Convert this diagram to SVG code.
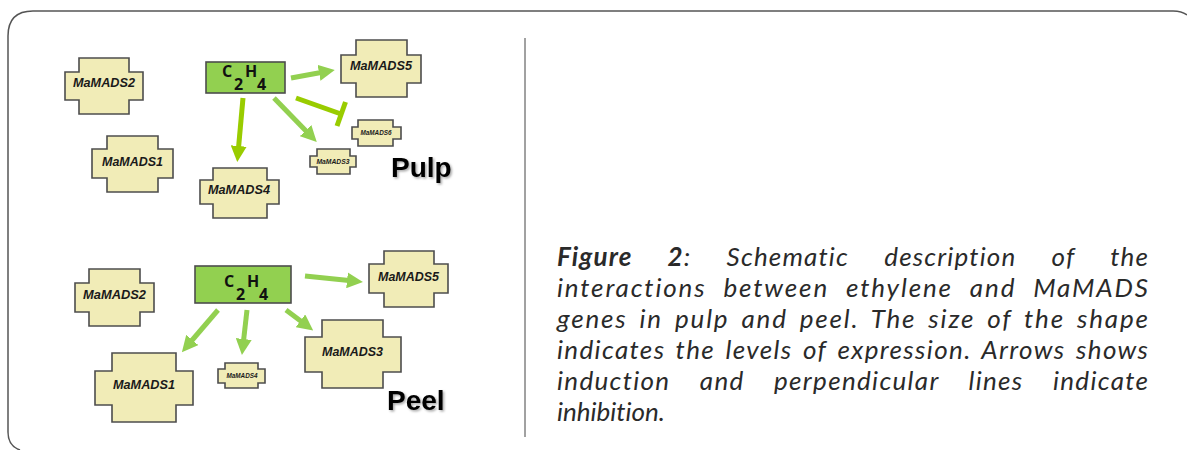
<svg xmlns="http://www.w3.org/2000/svg" width="1187" height="450" viewBox="0 0 1187 450">
<style>
.frame{fill:none;stroke:#555;stroke-width:1.5}
.div{stroke:#444;stroke-width:1}
.node{fill:#f1ecb7;stroke:#4d4d4d;stroke-width:1.6}
.ntxt{font-family:"Liberation Sans",Arial,sans-serif;font-weight:bold;font-style:italic;font-size:13px;fill:#1a1a1a;text-anchor:middle}
.stxt{font-family:"Liberation Sans",Arial,sans-serif;font-weight:bold;font-style:italic;font-size:6.5px;fill:#1a1a1a;text-anchor:middle}
.eth{fill:#92d050;stroke:#4d4d4d;stroke-width:1.6}
.etxt{font-family:"Open Sans","Liberation Sans",sans-serif;font-weight:bold;font-size:16px;fill:#111}
.lbl{font-family:"Liberation Sans",Arial,sans-serif;font-weight:bold;font-size:28px;fill:#000}
.cap{font-family:Lato,"Open Sans",sans-serif;font-style:italic;font-size:26px;fill:#2a2a2a;font-variant-ligatures:none;font-feature-settings:"liga" 0}
.a1{stroke:#99cc00;stroke-width:5;fill:none}
.a2{stroke:#92d050;stroke-width:5;fill:none}
</style>
<defs>
<marker id="h1" markerUnits="userSpaceOnUse" markerWidth="16" markerHeight="16" refX="2" refY="8" orient="auto"><path d="M0,0 L16,8 L0,16 z" fill="#99cc00"/></marker>
<marker id="h2" markerUnits="userSpaceOnUse" markerWidth="16" markerHeight="16" refX="2" refY="8" orient="auto"><path d="M0,0 L16,8 L0,16 z" fill="#92d050"/></marker>
<filter id="sh" x="-10%" y="-10%" width="130%" height="130%"><feDropShadow dx="1.5" dy="1.5" stdDeviation="1" flood-color="#000" flood-opacity="0.35"/></filter>
</defs>
<path class="frame" d="M20,450 Q8,446 8,432 L8,36 Q8,11 33,11 L1173,11 Q1182,11 1187,15"/>
<line class="div" x1="525" y1="38" x2="525" y2="437"/>

<g id="connectors">
<line class="a1" x1="243" y1="98" x2="238.5" y2="148" marker-end="url(#h1)"/>
<line class="a2" x1="291" y1="78" x2="321" y2="72.5" marker-end="url(#h2)"/>
<line class="a2" x1="274" y1="98" x2="307" y2="132" marker-end="url(#h2)"/>
<line class="a1" x1="296" y1="98" x2="341" y2="114"/>
<line class="a1" x1="345.5" y1="102" x2="337" y2="126"/>
<line class="a2" x1="218" y1="310" x2="191" y2="341.5" marker-end="url(#h2)"/>
<line class="a2" x1="247" y1="310" x2="243.5" y2="341" marker-end="url(#h2)"/>
<line class="a2" x1="286" y1="310" x2="302" y2="322" marker-end="url(#h2)"/>
<line class="a2" x1="305" y1="276" x2="349" y2="280.6" marker-end="url(#h2)"/>
</g>

<g id="pulp-c2h4"><rect class="eth" x="206" y="62" width="79" height="31"/>
<text class="etxt"><tspan x="222" y="77">C</tspan><tspan x="234" y="90">2</tspan><tspan x="245" y="77">H</tspan><tspan x="257" y="90">4</tspan></text></g>
<g id="pulp-mamads2"><path class="node" d="M79,58H129V72H143V100H129V114H79V100H65V72H79Z"/><text class="ntxt" x="104" y="86.5" textLength="62" lengthAdjust="spacingAndGlyphs">MaMADS2</text></g>
<g id="pulp-mamads1"><path class="node" d="M107,136H158V149H173V178H158V192H107V178H92V149H107Z"/><text class="ntxt" x="132.5" y="165.5" textLength="61" lengthAdjust="spacingAndGlyphs">MaMADS1</text></g>
<g id="pulp-mamads4"><path class="node" d="M213,168H267V180H279V204H267V218H213V204H200V180H213Z"/><text class="ntxt" x="239" y="193.5" textLength="62" lengthAdjust="spacingAndGlyphs">MaMADS4</text></g>
<g id="pulp-mamads5"><path class="node" d="M356,40H407V55H421V83H407V97H356V83H341V55H356Z"/><text class="ntxt" x="381" y="69.5" textLength="62" lengthAdjust="spacingAndGlyphs">MaMADS5</text></g>
<g id="pulp-mamads6"><path class="node" d="M358,120H393V127H401V139H393V146H358V139H352V127H358Z"/><text class="stxt" x="376" y="135" textLength="31" lengthAdjust="spacingAndGlyphs">MaMADS6</text></g>
<g id="pulp-mamads3"><path class="node" d="M317,149H350V156H356V167H350V174H317V167H310V156H317Z"/><text class="stxt" x="333" y="163.5" textLength="33" lengthAdjust="spacingAndGlyphs">MaMADS3</text></g>
<text class="lbl" x="391" y="177" filter="url(#sh)">Pulp</text>

<g id="peel-c2h4"><rect class="eth" x="195" y="266" width="96" height="37"/>
<text class="etxt" font-size="17"><tspan x="224" y="287">C</tspan><tspan x="236" y="300">2</tspan><tspan x="247" y="287">H</tspan><tspan x="259" y="300">4</tspan></text></g>
<g id="peel-mamads2"><path class="node" d="M89,269H140V283H154V312H140V326H89V312H75V283H89Z"/><text class="ntxt" x="114.5" y="298.5" textLength="63" lengthAdjust="spacingAndGlyphs">MaMADS2</text></g>
<g id="peel-mamads1"><path class="node" d="M112,353H176V371H193V405H176V422H112V405H95V371H112Z"/><text class="ntxt" x="144" y="388.5" textLength="62" lengthAdjust="spacingAndGlyphs">MaMADS1</text></g>
<g id="peel-mamads4"><path class="node" d="M225,363H258V369H265V383H258V388H225V383H218V369H225Z"/><text class="stxt" x="242" y="378" textLength="31" lengthAdjust="spacingAndGlyphs">MaMADS4</text></g>
<g id="peel-mamads3"><path class="node" d="M322,320H383V337H401V372H383V388H322V372H305V337H322Z"/><text class="ntxt" x="352.5" y="355.5" textLength="61" lengthAdjust="spacingAndGlyphs">MaMADS3</text></g>
<g id="peel-mamads5"><path class="node" d="M384,251H434V264H448V293H434V307H384V293H369V264H384Z"/><text class="ntxt" x="408.5" y="280.5" textLength="61" lengthAdjust="spacingAndGlyphs">MaMADS5</text></g>
<text class="lbl" x="387" y="410" filter="url(#sh)">Peel</text>

<g id="caption">
<text class="cap" x="557" y="266" textLength="591" lengthAdjust="spacing" word-spacing="28"><tspan font-weight="bold">Figure 2</tspan>: Schematic description of the</text>
<text class="cap" x="557" y="297" textLength="591" lengthAdjust="spacing" word-spacing="9">interactions between ethylene and MaMADS</text>
<text class="cap" x="557" y="328" textLength="591" lengthAdjust="spacing" word-spacing="4">genes in pulp and peel. The size of the shape</text>
<text class="cap" x="557" y="359" textLength="591" lengthAdjust="spacing" word-spacing="3">indicates the levels of expression. Arrows shows</text>
<text class="cap" x="557" y="390" textLength="591" lengthAdjust="spacing" word-spacing="22">induction and perpendicular lines indicate</text>
<text class="cap" x="557" y="421">inhibition.</text>
</g>
</svg>
